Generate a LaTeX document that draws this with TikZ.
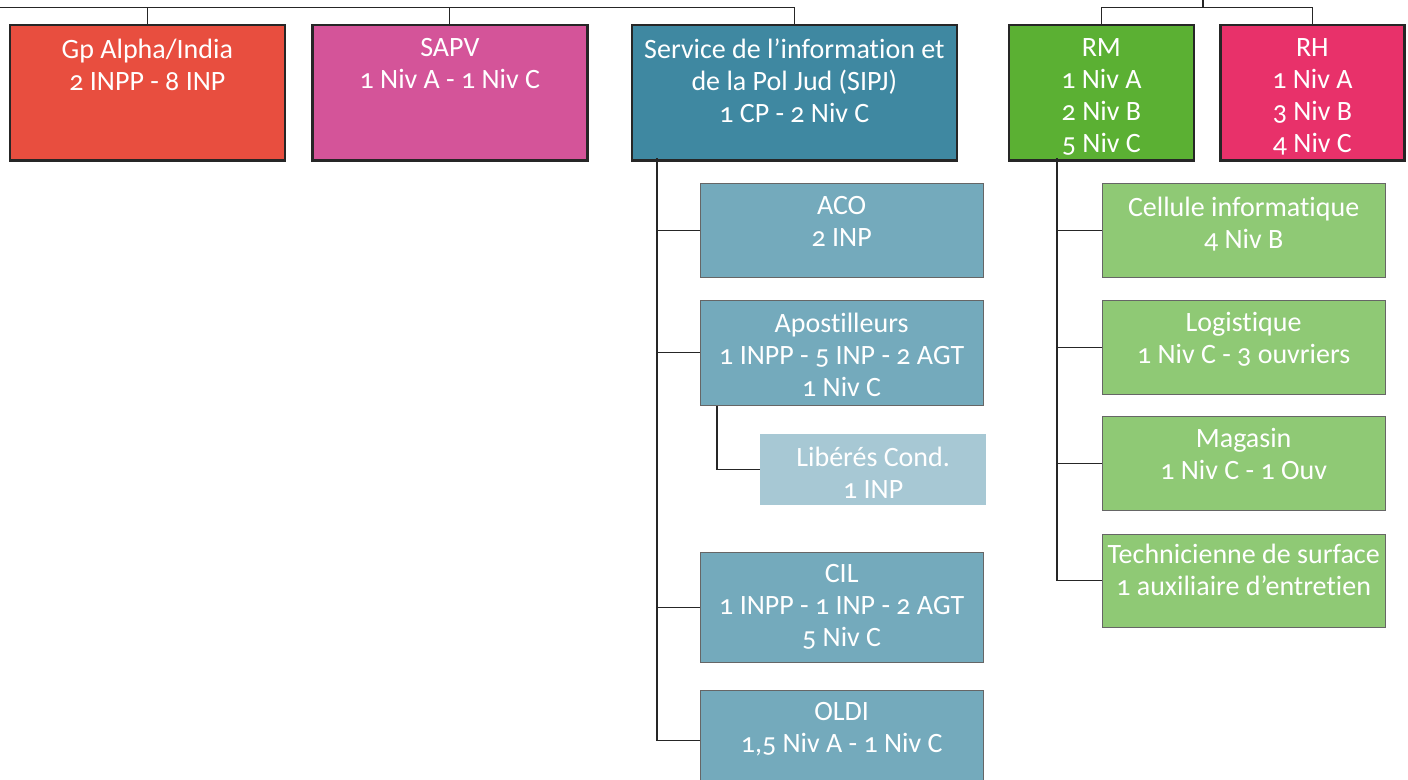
\documentclass[tikz,border=0pt]{standalone}
\usepackage{fontspec}
\setmainfont{Carlito}[Numbers=OldStyle, Ligatures=NoCommon]
\usetikzlibrary{calc}

\definecolor{alphared}{HTML}{E84E3F}
\definecolor{sapvpink}{HTML}{D45499}
\definecolor{sipjblue}{HTML}{3F88A1}
\definecolor{sipjlight}{HTML}{74AABC}
\definecolor{libpale}{HTML}{A7C8D4}
\definecolor{rmgreen}{HTML}{5BB033}
\definecolor{rmlight}{HTML}{8FC975}
\definecolor{rhred}{HTML}{E8316A}

\tikzset{
  headbox/.style={draw=black!85, line width=2.7pt, anchor=north west, inner sep=0pt, minimum height=135.5pt},
  subbox/.style={draw=black!60, line width=1.3pt, anchor=north west, inner sep=0pt, minimum width=283pt},
  boxtext/.style={anchor=north, align=center, inner sep=0pt, text=white, font=\fontsize{28}{32}\selectfont, execute at begin node=\rule{0pt}{20pt}},
  link/.style={draw=black!85, line width=1.2pt},
}

\begin{document}
\begin{tikzpicture}[x=1pt, y=-1pt]
		%%%%% START %%%%%
		\useasboundingbox (0,0) rectangle (1408,779);
		
		\node[headbox, fill=alphared, minimum width=275pt] (gp) at (8.5,23.5) {};
		\node[boxtext] (gptext) at ($(gp.north)+(0,15)$) {Gp Alpha/India\\2 INPP - 8 INP};
		
		\node[headbox, fill=sapvpink, minimum width=275pt] (sapv) at (311,23.5) {};
		\node[boxtext] (sapvtext) at ($(sapv.north)+(0,15)$) {SAPV\\1 Niv A - 1 Niv C};
		
		\node[headbox, fill=sipjblue, minimum width=325pt] (sipj) at (630.5,23.5) {};
		\node[boxtext] (sipjtext) at ($(sipj.north)+(0,15)$) {Service de l’information et\\de la Pol Jud (SIPJ)\\1 CP - 2 Niv C};
		
		\node[headbox, fill=rmgreen, minimum width=185pt] (rm) at (1007.5,23.5) {};
		\node[boxtext] (rmtext) at ($(rm.north)+(0,15)$) {RM\\1 Niv A\\2 Niv B\\5 Niv C};
		
		\node[headbox, fill=rhred, minimum width=184pt] (rh) at (1219,23.5) {};
		\node[boxtext] (rhtext) at ($(rh.north)+(0,15)$) {RH\\1 Niv A\\3 Niv B\\4 Niv C};
		
		\node[subbox, fill=sipjlight, minimum height=94pt] (aco) at (699.5,182.5) {};
		\node[boxtext] (acotext) at ($(aco.north)+(0,14)$) {ACO\\2 INP};
		
		\node[subbox, fill=sipjlight, minimum height=105pt] (apo) at (699.5,299.5) {};
		\node[boxtext] (apotext) at ($(apo.north)+(0,13)$) {Apostilleurs\\1 INPP - 5 INP - 2 AGT\\1 Niv C};
		
		\node[fill=libpale, anchor=north west, inner sep=0pt, minimum width=226pt, minimum height=71pt] (lib) at (760,434) {};
		\node[boxtext] (libtext) at ($(lib.north)+(0,13)$) {Libérés Cond.\\1 INP};
		
		\node[subbox, fill=sipjlight, minimum height=110pt] (cil) at (699.5,551.5) {};
		\node[boxtext] (ciltext) at ($(cil.north)+(0,13)$) {CIL\\1 INPP - 1 INP - 2 AGT\\5 Niv C};
		
		\node[subbox, fill=sipjlight, minimum height=100pt] (oldi) at (699.5,689.5) {};
		\node[boxtext] (olditext) at ($(oldi.north)+(0,13)$) {OLDI\\1,5 Niv A - 1 Niv C};
		
		\node[subbox, fill=rmlight, minimum height=94pt] (cell) at (1101.5,182.5) {};
		\node[boxtext] (celltext) at ($(cell.north)+(0,14)$) {Cellule informatique\\4 Niv B};
		
		\node[subbox, fill=rmlight, minimum height=94pt] (logi) at (1101.5,299.5) {};
		\node[boxtext] (logitext) at ($(logi.north)+(0,13)$) {Logistique\\1 Niv C - 3 ouvriers};
		
		\node[subbox, fill=rmlight, minimum height=94pt] (maga) at (1101.5,415.5) {};
		\node[boxtext] (magatext) at ($(maga.north)+(0,13)$) {Magasin\\1 Niv C - 1 Ouv};
		
		\node[subbox, fill=rmlight, minimum height=93pt] (tech) at (1101.5,533.5) {};
		\node[boxtext] (techtext) at ($(tech.north)+(0,10)$) {Technicienne de surface\\1 auxiliaire d’entretien};
		
		% top level links
		\coordinate (topleft) at (0,7.5);
		\coordinate (topright) at (1203,0);
		\draw[link] (topleft) -| (sipj.north);
		\draw[link] (gp.north) -- (gp.north |- topleft);
		\draw[link] (sapv.north) -- (sapv.north |- topleft);
		\draw[link] (rm.north) -- (rm.north |- topleft) -| (rh.north);
		\draw[link] (topright) -- (topright |- topleft);
		
		% SIPJ branch
		\coordinate (sipjtrunk) at (657,158);
		\draw[link] (sipjtrunk) |- (oldi.west);
		\draw[link] (sipjtrunk |- aco.west) -- (aco.west);
		\draw[link] (sipjtrunk |- apo.west) -- (apo.west);
		\draw[link] (sipjtrunk |- cil.west) -- (cil.west);
		\draw[link] ([xshift=17.5pt]apo.south west) |- (lib.west);
		
		% RM branch
		\coordinate (rmtrunk) at (1057,158);
		\draw[link] (rmtrunk) |- (tech.west);
		\draw[link] (rmtrunk |- cell.west) -- (cell.west);
		\draw[link] (rmtrunk |- logi.west) -- (logi.west);
		\draw[link] (rmtrunk |- maga.west) -- (maga.west);
		%%%%% END %%%%%
\end{tikzpicture}
\end{document}
